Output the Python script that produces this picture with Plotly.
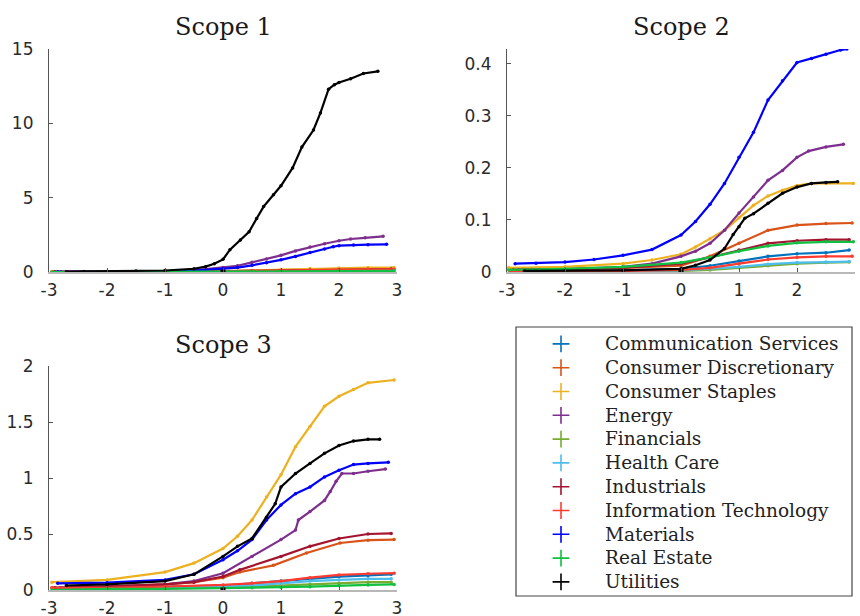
import plotly.graph_objects as go

# ---------------------------------------------------------------------------
# Sector names, colours and tick labels
# ---------------------------------------------------------------------------
sectors = [
    "Communication Services", "Consumer Discretionary", "Consumer Staples",
    "Energy", "Financials", "Health Care", "Industrials",
    "Information Technology", "Materials", "Real Estate", "Utilities",
]
sector_colors = [
    "#0072BD", "#D95319", "#EDB120", "#7E2F8E", "#77AC30", "#4DBEEE",
    "#A2142F", "#FF3B30", "#0000FF", "#10C040", "#000000",
]
x_tick_vals = [-3, -2, -1, 0, 1, 2, 3]
x_tick_text = ["-3", "-2", "-1", "0", "1", "2", "3"]
s1_tick_vals = [0, 5, 10, 15]
s2_tick_vals = [0, 0.1, 0.2, 0.3, 0.4]
s3_tick_vals = [0, 0.5, 1, 1.5, 2]
s3_tick_text = ["0", "0.5", "1", "1.5", "2"]

# Reference point marked on every panel
zero_q = [0]
zero_v = [0]

# ---------------------------------------------------------------------------
# Scope 1: normal quantile (q) vs. sorted intensity (v)
# ---------------------------------------------------------------------------
s1_comm_q = [-2.9, -2, -1, 0, 1, 2, 2.9]
s1_comm_v = [0.0, 0.0, 0.01, 0.02, 0.04, 0.06, 0.07]
s1_disc_q = [-2.9, -2, -1, 0, 0.5, 1, 1.5, 2, 2.5, 2.9]
s1_disc_v = [0.01, 0.01, 0.02, 0.05, 0.09, 0.14, 0.19, 0.22, 0.24, 0.25]
s1_stap_q = [-2.95, -2, -1, 0, 0.5, 1, 1.5, 2, 2.5, 2.95]
s1_stap_v = [0.01, 0.01, 0.02, 0.06, 0.1, 0.16, 0.22, 0.27, 0.29, 0.3]
s1_ener_q = [-2.8, -2, -1, -0.5, 0, 0.25, 0.5, 0.75, 1, 1.25, 1.5, 1.75, 2, 2.2, 2.45, 2.76]
s1_ener_v = [0.01, 0.02, 0.05, 0.12, 0.3, 0.42, 0.65, 0.88, 1.12, 1.42, 1.68, 1.9, 2.1, 2.22, 2.3, 2.4]
s1_fina_q = [-2.9, -2, -1, 0, 1, 2, 2.9]
s1_fina_v = [0.0, 0.0, 0.01, 0.01, 0.03, 0.04, 0.05]
s1_heal_q = [-2.9, -2, -1, 0, 1, 2, 2.9]
s1_heal_v = [0.0, 0.0, 0.0, 0.01, 0.02, 0.03, 0.04]
s1_indu_q = [-2.9, -2, -1, 0, 0.5, 1, 1.5, 2, 2.5, 2.9]
s1_indu_v = [0.01, 0.01, 0.02, 0.04, 0.07, 0.1, 0.14, 0.17, 0.19, 0.2]
s1_info_q = [-2.95, -2, -1, 0, 0.5, 1, 1.5, 2, 2.5, 2.95]
s1_info_v = [0.0, 0.01, 0.01, 0.03, 0.05, 0.08, 0.12, 0.15, 0.17, 0.18]
s1_mate_q = [-2.85, -2, -1, -0.5, 0, 0.25, 0.5, 0.75, 1, 1.25, 1.5, 1.75, 1.9, 2, 2.25, 2.5, 2.82]
s1_mate_v = [0.01, 0.02, 0.04, 0.09, 0.2, 0.3, 0.45, 0.62, 0.82, 1.05, 1.32, 1.55, 1.7, 1.77, 1.82, 1.84, 1.86]
s1_real_q = [-2.95, -2, -1, 0, 1, 2, 2.95]
s1_real_v = [0.0, 0.0, 0.01, 0.02, 0.04, 0.06, 0.08]
s1_util_q = [-2.7, -2.4, -2, -1.5, -1, -0.5, -0.3, -0.15, 0, 0.12, 0.3, 0.45, 0.58, 0.7,
             0.87, 1.0, 1.2, 1.36, 1.56, 1.68, 1.82, 1.92, 2.0, 2.2, 2.42, 2.67]
s1_util_v = [0.02, 0.03, 0.04, 0.06, 0.1, 0.22, 0.36, 0.55, 0.85, 1.5, 2.15, 2.7, 3.6, 4.4,
             5.2, 5.8, 7.0, 8.4, 9.55, 10.7, 12.3, 12.6, 12.75, 13.0, 13.35, 13.5]

# ---------------------------------------------------------------------------
# Scope 2
# ---------------------------------------------------------------------------
s2_comm_q = [-2.9, -2, -1, 0, 0.5, 1, 1.5, 2, 2.5, 2.9]
s2_comm_v = [0.001, 0.002, 0.003, 0.006, 0.012, 0.021, 0.03, 0.035, 0.037, 0.042]
s2_disc_q = [-2.95, -2, -1, 0, 0.5, 1, 1.5, 2, 2.5, 2.95]
s2_disc_v = [0.005, 0.006, 0.008, 0.012, 0.03, 0.055, 0.08, 0.09, 0.093, 0.094]
s2_stap_q = [-2.97, -2, -1, -0.5, 0, 0.25, 0.5, 0.75, 1, 1.25, 1.5, 1.75, 2, 2.25, 2.5, 2.97]
s2_stap_v = [0.008, 0.01, 0.016, 0.023, 0.034, 0.048, 0.064, 0.08, 0.104, 0.128, 0.146, 0.157, 0.166, 0.17, 0.17, 0.17]
s2_ener_q = [-2.8, -2, -1, -0.5, 0, 0.25, 0.5, 0.75, 1, 1.25, 1.5, 1.75, 2, 2.2, 2.5, 2.8]
s2_ener_v = [0.004, 0.005, 0.01, 0.016, 0.03, 0.04, 0.055, 0.08, 0.113, 0.144, 0.176, 0.195, 0.22, 0.232, 0.24, 0.245]
s2_fina_q = [-2.9, -2, -1, 0, 0.5, 1, 1.5, 2, 2.5, 2.9]
s2_fina_v = [0.0, 0.001, 0.001, 0.002, 0.004, 0.008, 0.012, 0.016, 0.018, 0.019]
s2_heal_q = [-2.9, -2, -1, 0, 0.5, 1, 1.5, 2, 2.5, 2.9]
s2_heal_v = [0.001, 0.001, 0.002, 0.003, 0.006, 0.01, 0.015, 0.018, 0.019, 0.02]
s2_indu_q = [-2.9, -2, -1, 0, 0.5, 1, 1.5, 2, 2.5, 2.9]
s2_indu_v = [0.004, 0.005, 0.008, 0.016, 0.028, 0.042, 0.055, 0.06, 0.062, 0.062]
s2_info_q = [-2.95, -2, -1, 0, 0.5, 1, 1.5, 2, 2.5, 2.95]
s2_info_v = [0.001, 0.001, 0.002, 0.004, 0.008, 0.016, 0.024, 0.028, 0.03, 0.03]
s2_mate_q = [-2.86, -2.5, -2, -1.5, -1, -0.5, 0, 0.25, 0.5, 0.75, 1, 1.25, 1.5, 1.75, 2, 2.25, 2.5, 2.75, 2.86]
s2_mate_v = [0.016, 0.017, 0.019, 0.024, 0.032, 0.043, 0.071, 0.097, 0.13, 0.17, 0.22, 0.268, 0.33, 0.367, 0.402, 0.41, 0.418, 0.426, 0.428]
s2_real_q = [-2.97, -2, -1, 0, 0.5, 1, 1.5, 2, 2.5, 2.97]
s2_real_v = [0.004, 0.006, 0.01, 0.018, 0.028, 0.04, 0.05, 0.056, 0.058, 0.058]
s2_util_q = [-2.7, -2, -1, 0, 0.25, 0.5, 0.75, 0.9, 1, 1.1, 1.25, 1.5, 1.75, 2, 2.25, 2.5, 2.7]
s2_util_v = [0.002, 0.002, 0.003, 0.006, 0.013, 0.023, 0.045, 0.072, 0.087, 0.103, 0.112, 0.132, 0.151, 0.163, 0.17, 0.172, 0.173]

# ---------------------------------------------------------------------------
# Scope 3
# ---------------------------------------------------------------------------
s3_comm_q = [-2.9, -2, -1, 0, 0.5, 1, 1.5, 2, 2.5, 2.9]
s3_comm_v = [0.02, 0.02, 0.03, 0.04, 0.06, 0.08, 0.1, 0.12, 0.13, 0.14]
s3_disc_q = [-2.95, -2, -1, -0.5, 0, 0.29, 0.87, 1.44, 2.02, 2.5, 2.95]
s3_disc_v = [0.02, 0.03, 0.05, 0.07, 0.11, 0.16, 0.22, 0.33, 0.42, 0.445, 0.45]
s3_stap_q = [-2.95, -2, -1, -0.5, 0, 0.25, 0.5, 0.75, 1, 1.25, 1.5, 1.75, 2, 2.25, 2.5, 2.95]
s3_stap_v = [0.07, 0.09, 0.16, 0.24, 0.37, 0.48, 0.625, 0.83, 1.03, 1.28, 1.46, 1.64, 1.73, 1.79, 1.85, 1.875]
s3_ener_q = [-2.8, -2, -1, -0.5, 0, 0.5, 1, 1.25, 1.3, 1.5, 1.75, 1.85, 1.95, 2.05, 2.25, 2.5, 2.8]
s3_ener_v = [0.02, 0.03, 0.05, 0.08, 0.15, 0.3, 0.45, 0.535, 0.625, 0.7, 0.8, 0.88, 0.97, 1.04, 1.04, 1.06, 1.08]
s3_fina_q = [-2.9, -2, -1, 0, 0.5, 1, 1.5, 2, 2.5, 2.9]
s3_fina_v = [0.01, 0.01, 0.02, 0.02, 0.03, 0.04, 0.05, 0.06, 0.07, 0.07]
s3_heal_q = [-2.9, -2, -1, 0, 0.5, 1, 1.5, 2, 2.5, 2.9]
s3_heal_v = [0.01, 0.02, 0.02, 0.03, 0.04, 0.06, 0.08, 0.09, 0.1, 0.1]
s3_indu_q = [-2.9, -2, -1, -0.5, 0, 0.29, 1.0, 1.5, 2.0, 2.5, 2.9]
s3_indu_v = [0.02, 0.03, 0.05, 0.07, 0.12, 0.18, 0.3, 0.39, 0.46, 0.5, 0.505]
s3_info_q = [-2.95, -2, -1, 0, 0.5, 1, 1.5, 2, 2.5, 2.95]
s3_info_v = [0.02, 0.02, 0.03, 0.045, 0.06, 0.08, 0.11, 0.135, 0.145, 0.15]
s3_mate_q = [-2.85, -2, -1, -0.5, 0, 0.25, 0.5, 0.75, 1, 1.25, 1.5, 1.75, 2, 2.25, 2.5, 2.85]
s3_mate_v = [0.06, 0.065, 0.09, 0.14, 0.27, 0.35, 0.45, 0.625, 0.76, 0.86, 0.92, 1.01, 1.07, 1.12, 1.13, 1.14]
s3_real_q = [-2.95, -2, -1, 0, 0.5, 1, 1.5, 2, 2.5, 2.95]
s3_real_v = [0.0, 0.01, 0.01, 0.015, 0.02, 0.025, 0.03, 0.04, 0.045, 0.05]
s3_util_q = [-2.7, -2, -1, -0.5, 0, 0.25, 0.5, 0.75, 0.9, 1, 1.25, 1.5, 1.75, 2, 2.25, 2.5, 2.7]
s3_util_v = [0.04, 0.05, 0.08, 0.14, 0.3, 0.39, 0.46, 0.65, 0.77, 0.92, 1.04, 1.13, 1.22, 1.29, 1.33, 1.345, 1.345]

scope1 = [(s1_comm_q, s1_comm_v), (s1_disc_q, s1_disc_v), (s1_stap_q, s1_stap_v),
          (s1_ener_q, s1_ener_v), (s1_fina_q, s1_fina_v), (s1_heal_q, s1_heal_v),
          (s1_indu_q, s1_indu_v), (s1_info_q, s1_info_v), (s1_mate_q, s1_mate_v),
          (s1_real_q, s1_real_v), (s1_util_q, s1_util_v)]
scope2 = [(s2_comm_q, s2_comm_v), (s2_disc_q, s2_disc_v), (s2_stap_q, s2_stap_v),
          (s2_ener_q, s2_ener_v), (s2_fina_q, s2_fina_v), (s2_heal_q, s2_heal_v),
          (s2_indu_q, s2_indu_v), (s2_info_q, s2_info_v), (s2_mate_q, s2_mate_v),
          (s2_real_q, s2_real_v), (s2_util_q, s2_util_v)]
scope3 = [(s3_comm_q, s3_comm_v), (s3_disc_q, s3_disc_v), (s3_stap_q, s3_stap_v),
          (s3_ener_q, s3_ener_v), (s3_fina_q, s3_fina_v), (s3_heal_q, s3_heal_v),
          (s3_indu_q, s3_indu_v), (s3_info_q, s3_info_v), (s3_mate_q, s3_mate_v),
          (s3_real_q, s3_real_v), (s3_util_q, s3_util_v)]

W, H = 860, 616
TICK_FONT = dict(family="DejaVu Sans, sans-serif", size=17, color="#2a2a2a")
SERIF = "DejaVu Serif, serif"

fig = go.Figure()

panels = [("x", "y", scope1), ("x2", "y2", scope2), ("x3", "y3", scope3)]
for xa, ya, series in panels:
    for (q, v), color in zip(series, sector_colors):
        fig.add_trace(go.Scatter(
            x=q, y=v, xaxis=xa, yaxis=ya, mode="lines+markers",
            line=dict(color=color, width=2.2),
            marker=dict(symbol="circle", size=3.5, color=color, line=dict(width=0)),
            showlegend=False, hoverinfo="skip",
        ))
    fig.add_trace(go.Scatter(
        x=zero_q, y=zero_v, xaxis=xa, yaxis=ya, mode="markers",
        marker=dict(symbol="square", size=5, color="#000000"),
        showlegend=False, hoverinfo="skip",
    ))

# Legend entries ('+' markers only)
for name, color in zip(sectors, sector_colors):
    fig.add_trace(go.Scatter(
        x=[None], y=[None], mode="markers", name=f'<span style="font-size:18.5px">{name}</span>',
        marker=dict(symbol="cross-thin", size=12, color=color, line=dict(color=color, width=1.6)),
        showlegend=True,
    ))


def px_x(p):
    return p / W


def px_y(p):
    return 1 - p / H


x_common = dict(range=[-3, 3], tickvals=x_tick_vals, ticktext=x_tick_text, tickfont=TICK_FONT,
                showgrid=False, zeroline=False, showline=True, linecolor="#b8b8b8", linewidth=2,
                ticks="inside", ticklen=4, tickcolor="#555555", tickwidth=1,
                ticklabelstandoff=2, automargin=False, fixedrange=True)
y_common = dict(tickfont=TICK_FONT, showgrid=False, zeroline=False, showline=True,
                linecolor="#555555", linewidth=1.2, ticks="inside", ticklen=4,
                tickcolor="#555555", tickwidth=1, ticklabelstandoff=11,
                automargin=False, fixedrange=True)

fig.update_layout(
    width=W, height=H,
    margin=dict(l=0, r=0, t=0, b=0, pad=0, autoexpand=False),
    paper_bgcolor="white", plot_bgcolor="white",
    xaxis=dict(domain=[px_x(49), px_x(397)], anchor="y", **x_common),
    yaxis=dict(domain=[px_y(272), px_y(49)], anchor="x", range=[0, 15],
               tickvals=s1_tick_vals, **y_common),
    xaxis2=dict(domain=[px_x(507), px_x(855)], anchor="y2", **x_common),
    yaxis2=dict(domain=[px_y(272), px_y(49)], anchor="x2", range=[0, 0.428],
                tickvals=s2_tick_vals, **y_common),
    xaxis3=dict(domain=[px_x(49), px_x(397)], anchor="y3", **x_common),
    yaxis3=dict(domain=[px_y(590), px_y(366)], anchor="x3", range=[0, 2],
                tickvals=s3_tick_vals, ticktext=s3_tick_text, **y_common),
    showlegend=True,
    legend=dict(
        x=px_x(517), y=px_y(327), xanchor="left", yanchor="top",
        font=dict(family=SERIF, size=16, color="#222222"),
        bgcolor="rgba(0,0,0,0)", borderwidth=0, itemwidth=78,
        itemclick=False, itemdoubleclick=False,
    ),
    shapes=[dict(type="rect", xref="paper", yref="paper",
                 x0=px_x(516), x1=px_x(852), y0=px_y(596), y1=px_y(327),
                 line=dict(color="#444444", width=1.2), fillcolor="rgba(0,0,0,0)")],
    annotations=[
        dict(text="Scope 1", x=px_x(223), y=px_y(27), xref="paper", yref="paper",
             showarrow=False, xanchor="center", yanchor="middle",
             font=dict(family=SERIF, size=24, color="#1a1a1a")),
        dict(text="Scope 2", x=px_x(681), y=px_y(27), xref="paper", yref="paper",
             showarrow=False, xanchor="center", yanchor="middle",
             font=dict(family=SERIF, size=24, color="#1a1a1a")),
        dict(text="Scope 3", x=px_x(223), y=px_y(345), xref="paper", yref="paper",
             showarrow=False, xanchor="center", yanchor="middle",
             font=dict(family=SERIF, size=24, color="#1a1a1a")),
    ],
)

fig.write_html("out.html")
